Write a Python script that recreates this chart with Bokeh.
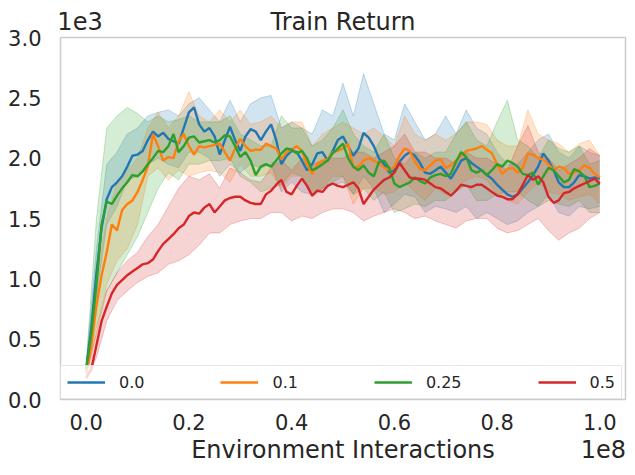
import numpy as np
from bokeh.plotting import figure
from bokeh.models import (Range1d, FixedTicker, CustomJSTickFormatter, Legend, LegendItem,
                          LinearAxis)
from bokeh.embed import file_html
from bokeh.resources import INLINE

# ---- data (x in units of 1e8 env steps, returns in units of 1e3) ----
X_SCALE = 1e8
Y_SCALE = 1e3
MEAN_STEPS = [i / 100 for i in range(101)]      # 0.00 .. 1.00
BAND_STEPS = [i / 50 for i in range(51)]        # 0.00 .. 1.00

TITLE = "Train Return"
X_LABEL = "Environment Interactions"
LABELS = ["0.0", "0.1", "0.25", "0.5"]
COLORS = ["#1f77b4", "#ff7f0e", "#2ca02c", "#d62728"]

MEAN_00 = [0.25, 0.60, 1.05, 1.42, 1.66, 1.76, 1.80, 1.85, 1.93, 2.02,
           2.03, 2.06, 2.15, 2.22, 2.18, 2.21, 2.16, 2.14, 2.12, 2.25,
           2.38, 2.42, 2.28, 2.22, 2.25, 2.18, 2.03, 2.15, 2.26, 2.15,
           2.06, 2.18, 2.24, 2.22, 2.15, 2.22, 2.28, 2.15, 1.95, 2.02,
           2.06, 2.05, 1.98, 1.90, 1.95, 2.04, 2.05, 1.98, 2.06, 2.15,
           2.18, 2.10, 2.02, 2.08, 2.21, 2.17, 2.10, 2.00, 1.95, 1.88,
           1.90, 1.97, 2.02, 2.05, 2.02, 1.96, 1.88, 1.87, 1.90, 1.93,
           1.88, 1.83, 1.90, 1.98, 2.00, 1.96, 1.93, 1.90, 1.86, 1.83,
           1.78, 1.74, 1.70, 1.68, 1.70, 1.75, 1.80, 1.86, 1.93, 2.04,
           1.98, 1.90, 1.80, 1.76, 1.76, 1.80, 1.86, 1.85, 1.83, 1.84,
           1.83]
MEAN_01 = [0.22, 0.45, 0.78, 1.03, 1.22, 1.45, 1.40, 1.57, 1.62, 1.65,
           1.72, 1.82, 1.93, 2.20, 2.10, 1.98, 2.01, 2.00, 2.14, 2.20,
           2.10, 2.03, 2.10, 2.09, 2.10, 2.11, 2.12, 2.05, 1.98, 2.08,
           2.16, 2.10, 2.06, 2.07, 2.07, 2.12, 2.10, 2.08, 1.99, 2.05,
           2.07, 2.10, 2.06, 1.95, 1.87, 1.95, 1.98, 1.99, 2.05, 2.06,
           2.08, 2.12, 1.92, 1.93, 1.98, 2.00, 1.98, 1.96, 1.92, 1.90,
           1.93, 2.02, 2.08, 2.06, 1.97, 1.91, 1.90, 1.94, 1.98, 1.99,
           1.92, 1.94, 1.98, 2.02, 2.06, 2.07, 2.08, 2.10, 2.07, 2.04,
           1.95, 1.87, 1.91, 1.92, 1.88, 1.92, 2.04, 2.03, 2.00, 1.99,
           1.95, 1.90, 1.93, 1.92, 1.87, 1.88, 1.90, 1.94, 1.92, 1.87,
           1.84]
MEAN_025 = [0.25, 0.55, 0.95, 1.45, 1.64, 1.62, 1.69, 1.75, 1.80, 1.86,
            1.85, 1.89, 1.95, 2.00, 2.06, 2.05, 2.10, 2.20, 2.05, 2.10,
            2.17, 2.18, 2.13, 2.14, 2.15, 2.13, 2.15, 2.19, 2.18, 2.10,
            2.01, 2.05, 1.98, 1.86, 1.93, 1.95, 1.93, 1.98, 2.04, 2.08,
            2.07, 2.04, 2.06, 2.00, 1.90, 1.92, 1.95, 1.98, 2.04, 2.08,
            2.12, 2.00, 1.93, 1.90, 1.94, 1.88, 1.85, 1.97, 1.98, 1.92,
            1.79, 1.76, 1.78, 1.80, 1.84, 1.81, 1.79, 1.84, 1.86, 1.87,
            1.85, 1.87, 1.97, 2.05, 2.01, 1.90, 1.88, 1.90, 1.86, 1.90,
            1.95, 1.93, 1.98, 1.96, 1.93, 1.87, 1.86, 1.88, 1.78, 1.85,
            1.92, 1.90, 1.85, 1.80, 1.82, 1.91, 1.89, 1.85, 1.76, 1.77,
            1.79]
MEAN_05 = [0.18, 0.25, 0.45, 0.65, 0.77, 0.88, 0.95, 0.99, 1.03, 1.06,
           1.09, 1.12, 1.13, 1.16, 1.23, 1.29, 1.33, 1.37, 1.42, 1.45,
           1.52, 1.55, 1.54, 1.59, 1.62, 1.55, 1.60, 1.65, 1.67, 1.68,
           1.68, 1.65, 1.63, 1.62, 1.62, 1.70, 1.73, 1.78, 1.82, 1.72,
           1.70, 1.77, 1.83, 1.77, 1.69, 1.73, 1.72, 1.77, 1.79, 1.77,
           1.76, 1.78, 1.80, 1.75, 1.62, 1.68, 1.74, 1.78, 1.82, 1.84,
           1.88, 1.96, 1.90, 1.84, 1.83, 1.83, 1.82, 1.79, 1.76, 1.75,
           1.72, 1.69, 1.73, 1.78, 1.77, 1.76, 1.78, 1.78, 1.75, 1.72,
           1.69, 1.68, 1.66, 1.66, 1.70, 1.78, 1.86, 1.82, 1.85, 1.80,
           1.68, 1.63, 1.65, 1.71, 1.72, 1.75, 1.77, 1.79, 1.81, 1.83,
           1.79]

UPPER_00 = [0.30, 1.25, 1.95, 2.05, 2.20, 2.25, 2.35, 2.38, 2.40, 2.35,
            2.45, 2.50, 2.40, 2.30, 2.48, 2.30, 2.45, 2.50, 2.52, 2.25,
            2.30, 2.25, 2.20, 2.40, 2.35, 2.62, 2.35, 2.70, 2.45, 2.20,
            2.15, 2.45, 2.30, 2.15, 2.20, 2.35, 2.20, 2.40, 2.25, 2.20,
            2.05, 1.95, 1.95, 2.05, 2.15, 2.20, 2.05, 2.00, 2.10, 2.05,
            2.02]
LOWER_00 = [0.20, 0.85, 1.45, 1.60, 1.82, 1.85, 1.95, 2.00, 1.95, 1.92,
            2.05, 2.05, 2.00, 1.85, 1.95, 1.88, 1.95, 1.92, 1.95, 1.72,
            1.80, 1.72, 1.70, 1.75, 1.78, 1.80, 1.70, 1.85, 1.75, 1.55,
            1.62, 1.70, 1.68, 1.55, 1.60, 1.58, 1.55, 1.60, 1.50, 1.55,
            1.50, 1.45, 1.48, 1.55, 1.60, 1.70, 1.55, 1.52, 1.60, 1.58,
            1.60]
UPPER_01 = [0.28, 1.00, 1.50, 1.80, 1.90, 2.00, 2.25, 2.38, 2.25, 2.35,
            2.55, 2.35, 2.30, 2.40, 2.30, 2.40, 2.28, 2.30, 2.35, 2.25,
            2.30, 2.30, 2.10, 2.20, 2.25, 2.30, 2.25, 2.20, 2.25, 2.18,
            2.10, 2.35, 2.20, 2.15, 2.20, 2.15, 2.20, 2.30, 2.30, 2.28,
            2.15, 2.10, 2.10, 2.40, 2.20, 2.15, 2.12, 2.05, 2.12, 2.15,
            2.02]
LOWER_01 = [0.18, 0.55, 0.95, 1.15, 1.25, 1.45, 1.85, 1.92, 1.82, 1.90,
            1.85, 1.88, 1.90, 1.88, 1.80, 1.95, 1.85, 1.85, 1.88, 1.75,
            1.85, 1.85, 1.68, 1.75, 1.85, 1.85, 1.62, 1.75, 1.75, 1.70,
            1.72, 1.80, 1.72, 1.65, 1.75, 1.70, 1.75, 1.82, 1.85, 1.82,
            1.70, 1.65, 1.62, 1.72, 1.80, 1.72, 1.70, 1.65, 1.68, 1.70,
            1.62]
UPPER_025 = [0.30, 1.50, 2.25, 2.35, 2.42, 2.37, 2.30, 2.35, 2.30, 2.32,
             2.35, 2.30, 2.30, 2.30, 2.35, 2.20, 2.15, 2.10, 2.10, 2.35,
             2.25, 2.25, 2.10, 2.15, 2.25, 2.40, 2.20, 2.10, 2.05, 2.20,
             2.00, 1.95, 2.05, 2.00, 2.05, 2.05, 2.20, 2.30, 2.15, 2.10,
             2.30, 2.48, 2.15, 2.10, 2.00, 2.15, 2.08, 2.05, 2.10, 1.95,
             1.98]
LOWER_025 = [0.20, 0.60, 0.90, 1.05, 1.20, 1.35, 1.55, 1.75, 1.88, 1.82,
             1.95, 1.95, 1.98, 1.98, 2.00, 1.85, 1.80, 1.72, 1.75, 1.78,
             1.88, 1.85, 1.70, 1.75, 1.80, 1.85, 1.70, 1.75, 1.65, 1.72,
             1.55, 1.58, 1.62, 1.60, 1.65, 1.65, 1.72, 1.78, 1.65, 1.65,
             1.70, 1.72, 1.72, 1.65, 1.60, 1.65, 1.62, 1.60, 1.65, 1.55,
             1.55]
UPPER_05 = [0.22, 0.55, 0.90, 1.05, 1.15, 1.22, 1.35, 1.45, 1.60, 1.75,
            1.85, 1.82, 1.87, 1.75, 1.92, 1.88, 1.82, 1.80, 1.92, 1.98,
            1.90, 2.00, 1.95, 1.98, 2.00, 2.00, 2.05, 2.05, 2.00, 2.05,
            2.10, 2.20, 2.05, 2.05, 2.00, 2.00, 1.95, 2.05, 2.00, 2.00,
            1.95, 1.90, 2.10, 2.27, 2.05, 2.00, 1.90, 1.95, 2.00, 2.08,
            2.02]
LOWER_05 = [0.15, 0.35, 0.65, 0.82, 0.90, 0.97, 1.02, 1.05, 1.12, 1.15,
            1.20, 1.28, 1.38, 1.38, 1.45, 1.48, 1.50, 1.50, 1.55, 1.55,
            1.48, 1.52, 1.50, 1.55, 1.58, 1.58, 1.55, 1.48, 1.52, 1.55,
            1.58, 1.55, 1.50, 1.52, 1.48, 1.45, 1.42, 1.48, 1.50, 1.50,
            1.42, 1.38, 1.40, 1.45, 1.50, 1.40, 1.32, 1.38, 1.42, 1.50,
            1.55]

MEANS = [MEAN_00, MEAN_01, MEAN_025, MEAN_05]
UPPERS = [UPPER_00, UPPER_01, UPPER_025, UPPER_05]
LOWERS = [LOWER_00, LOWER_01, LOWER_025, LOWER_05]

X_TICKS = [0.0, 0.2, 0.4, 0.6, 0.8, 1.0]
Y_TICKS = [0.0, 0.5, 1.0, 1.5, 2.0, 2.5, 3.0]

TEXT = "#262626"
FONT = "DejaVu Sans"

p = figure(width=635, height=475, output_backend="svg", toolbar_location=None,
           x_range=Range1d(-0.05 * X_SCALE, 1.05 * X_SCALE),
           y_range=Range1d(0, 3.0 * Y_SCALE),
           min_border_left=60, min_border_right=10, min_border_top=37, min_border_bottom=76)

p.background_fill_color = "white"
p.border_fill_color = "white"
p.outline_line_color = "#cccccc"
p.outline_line_width = 1.5
p.grid.visible = False

bx = np.array(BAND_STEPS) * X_SCALE
mx = np.array(MEAN_STEPS) * X_SCALE

for up, lo, c in zip(UPPERS, LOWERS, COLORS):
    u = np.array(up) * Y_SCALE
    l = np.array(lo) * Y_SCALE
    p.varea(x=bx, y1=l, y2=u, fill_color=c, fill_alpha=0.2)
    p.line(bx, u, line_color=c, line_alpha=0.25, line_width=1)
    p.line(bx, l, line_color=c, line_alpha=0.25, line_width=1)

renderers = []
for m, c in zip(MEANS, COLORS):
    r = p.line(mx, np.array(m) * Y_SCALE, line_color=c, line_width=2.4)
    renderers.append(r)


def style_axis(ax, size):
    ax.axis_line_color = None
    ax.major_tick_line_color = None
    ax.minor_tick_line_color = None
    ax.major_label_text_font = FONT
    ax.major_label_text_font_size = size
    ax.major_label_text_color = TEXT


p.xaxis.ticker = FixedTicker(ticks=[t * X_SCALE for t in X_TICKS])
p.yaxis.ticker = FixedTicker(ticks=[t * Y_SCALE for t in Y_TICKS])
p.xaxis.formatter = CustomJSTickFormatter(code="return (tick/1e8).toFixed(1);")
p.yaxis.formatter = CustomJSTickFormatter(code="return (tick/1e3).toFixed(1);")
style_axis(p.xaxis[0], "21px")
style_axis(p.yaxis[0], "21px")
p.xaxis.major_label_standoff = 8
p.yaxis.major_label_standoff = 13

# title row ("1e3" offset text + title) as text of an axis above the frame
top_axis = LinearAxis(ticker=FixedTicker(ticks=[-0.012 * X_SCALE, 0.5 * X_SCALE]),
                      formatter=CustomJSTickFormatter(
                          code="return ['1e3', '%s'][index];" % TITLE))
style_axis(top_axis, "24px")
top_axis.major_label_standoff = -4
p.add_layout(top_axis, "above")

# x-label row (label + "1e8" offset text) as text of a second axis below
bottom_axis = LinearAxis(ticker=FixedTicker(ticks=[0.5 * X_SCALE, 1.007 * X_SCALE]),
                         formatter=CustomJSTickFormatter(
                             code="return ['%s', '1e8'][index];" % X_LABEL))
style_axis(bottom_axis, "24px")
bottom_axis.major_label_standoff = -3
p.add_layout(bottom_axis, "below")

legend = Legend(items=[LegendItem(label=l, renderers=[r]) for l, r in zip(LABELS, renderers)],
                orientation="horizontal", location="bottom_left", margin=0,
                padding=6, spacing=76, glyph_width=38, glyph_height=20,
                label_standoff=14, label_text_font=FONT, label_text_font_size="16px",
                label_text_color=TEXT, border_line_color="#cccccc", border_line_width=1.2,
                background_fill_color="white", background_fill_alpha=0.8)
p.add_layout(legend)

open("out.html", "w").write(file_html(p, INLINE))
